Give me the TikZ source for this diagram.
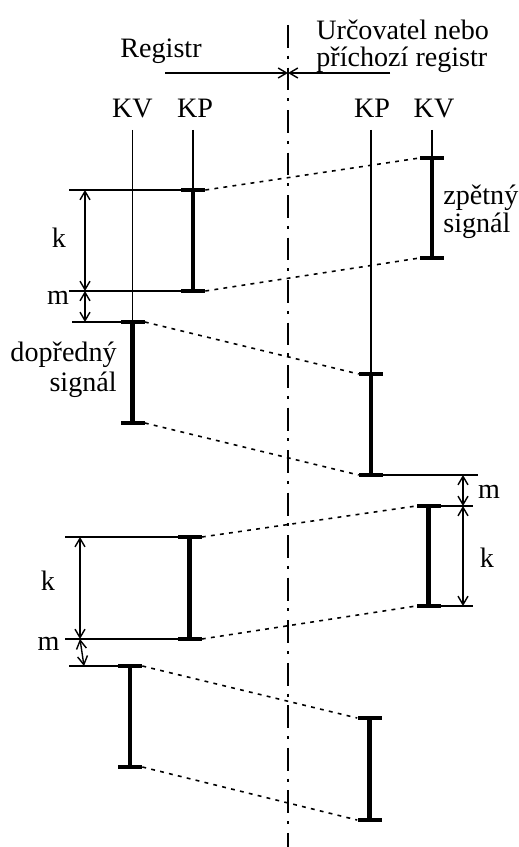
\documentclass[tikz,border=0pt]{standalone}
\usepackage{fontspec}
\setmainfont{Liberation Serif}
\usetikzlibrary{arrows.meta}

\begin{document}
\begin{tikzpicture}[x=0.02cm, y=-0.02cm,
    >={Straight Barb[length=1.7mm, width=2mm]},
    thinline/.style={line width=0.8pt},
    bar/.style={line width=2.8pt},
    tickmark/.style={fill, inner sep=0pt, minimum width=0.48cm, minimum height=0.08cm},
    link/.style={line width=0.9pt, dash pattern=on 2.2pt off 3pt},
    axisline/.style={line width=0.8pt, dash pattern=on 13pt off 4.5pt on 1.7pt off 5pt},
    lbl/.style={font=\fontsize{16}{19}\selectfont, inner sep=0pt}]
  \useasboundingbox (0,0) rectangle (518,847);

  % Boundary between the two sides
  \draw[axisline] (288,25) -- (288,847);
  \coordinate (mid) at (288,73);
  \coordinate (regL) at (165,73);
  \coordinate (regR) at (390,73);
  \draw[thinline, ->] (regL) -- (mid);
  \draw[thinline, ->] (regR) -- (mid);
  \node[lbl, anchor=base] (reg) at (161,58) {Registr};
  \node[lbl, anchor=base west] (urc1) at (316,40) {Určovatel nebo};
  \node[lbl, anchor=base west] (urc2) at (316,67) {příchozí registr};

  % Line names
  \node[lbl, anchor=base] (kvL) at (132.5,118) {KV};
  \node[lbl, anchor=base] (kpL) at (195,118) {KP};
  \node[lbl, anchor=base] (kpR) at (372,118) {KP};
  \node[lbl, anchor=base] (kvR) at (434,118) {KV};

  % Signal ticks
  \node[tickmark] (p1) at (193,190) {};
  \node[tickmark] (p2) at (193,291) {};
  \node[tickmark] (v1) at (132.5,322) {};
  \node[tickmark] (v2) at (132.5,423) {};
  \node[tickmark] (w1) at (432,158) {};
  \node[tickmark] (w2) at (432,258) {};
  \node[tickmark] (q1) at (371,374) {};
  \node[tickmark] (q2) at (371,475) {};
  \node[tickmark] (p3) at (189.5,537) {};
  \node[tickmark] (p4) at (189.5,639) {};
  \node[tickmark] (v3) at (130,666) {};
  \node[tickmark] (v4) at (130,767) {};
  \node[tickmark] (w3) at (428.5,506) {};
  \node[tickmark] (w4) at (428.5,606) {};
  \node[tickmark] (q3) at (369.5,718) {};
  \node[tickmark] (q4) at (369.5,820) {};

  % Thin wires below the names
  \draw[thinline] (132.5,130) -- (v1.center);
  \draw[thinline] (193,130) -- (p1.center);
  \draw[thinline] (371,130) -- (q1.center);
  \draw[thinline] (432,130) -- (w1.center);

  % Signals
  \foreach \a/\b in {p1/p2, v1/v2, w1/w2, q1/q2, p3/p4, v3/v4, w3/w4, q3/q4}
    \draw[bar] (\a.center) -- (\b.center);

  % Transmission delay
  \foreach \a/\b in {p1/w1, p2/w2, v1/q1, v2/q2, p3/w3, p4/w4, v3/q3, v4/q4}
    \draw[link] (\a.east) -- (\b.west);

  % Extension lines
  \draw[thinline] (69,190) -- (p1.center);
  \draw[thinline] (69,291) -- (p2.center);
  \draw[thinline] (72,322) -- (v1.center);
  \draw[thinline] (q2.center) -- (478,475);
  \draw[thinline] (w3.center) -- (473,506);
  \draw[thinline] (w4.center) -- (473,606);
  \draw[thinline] (65,537) -- (p3.center);
  \draw[thinline] (65,639) -- (p4.center);
  \draw[thinline] (69,666) -- (v3.center);

  % Dimensions k and m
  \draw[thinline, <->] (85,190) -- (85,291);
  \draw[thinline, <->] (85,291) -- (85,322);
  \draw[thinline, <->] (463,475) -- (463,506);
  \draw[thinline, <->] (463,506) -- (463,606);
  \draw[thinline, <->] (80,537) -- (80,639);
  \draw[thinline, <->] (80,639) -- (84,666);
  \node[lbl, anchor=base] (k1) at (59,248) {k};
  \node[lbl, anchor=base] (m1) at (58,305) {m};
  \node[lbl, anchor=base] (m2) at (489,498) {m};
  \node[lbl, anchor=base] (k2) at (487,567) {k};
  \node[lbl, anchor=base] (k3) at (48,590) {k};
  \node[lbl, anchor=base] (m3) at (48.5,650) {m};

  % Signal names
  \node[lbl, anchor=base east] (dop1) at (117,361) {dopředný};
  \node[lbl, anchor=base east] (dop2) at (117,391) {signál};
  \node[lbl, anchor=base west] (zpe1) at (443,205) {zpětný};
  \node[lbl, anchor=base west] (zpe2) at (443,233) {signál};
\end{tikzpicture}
\end{document}
